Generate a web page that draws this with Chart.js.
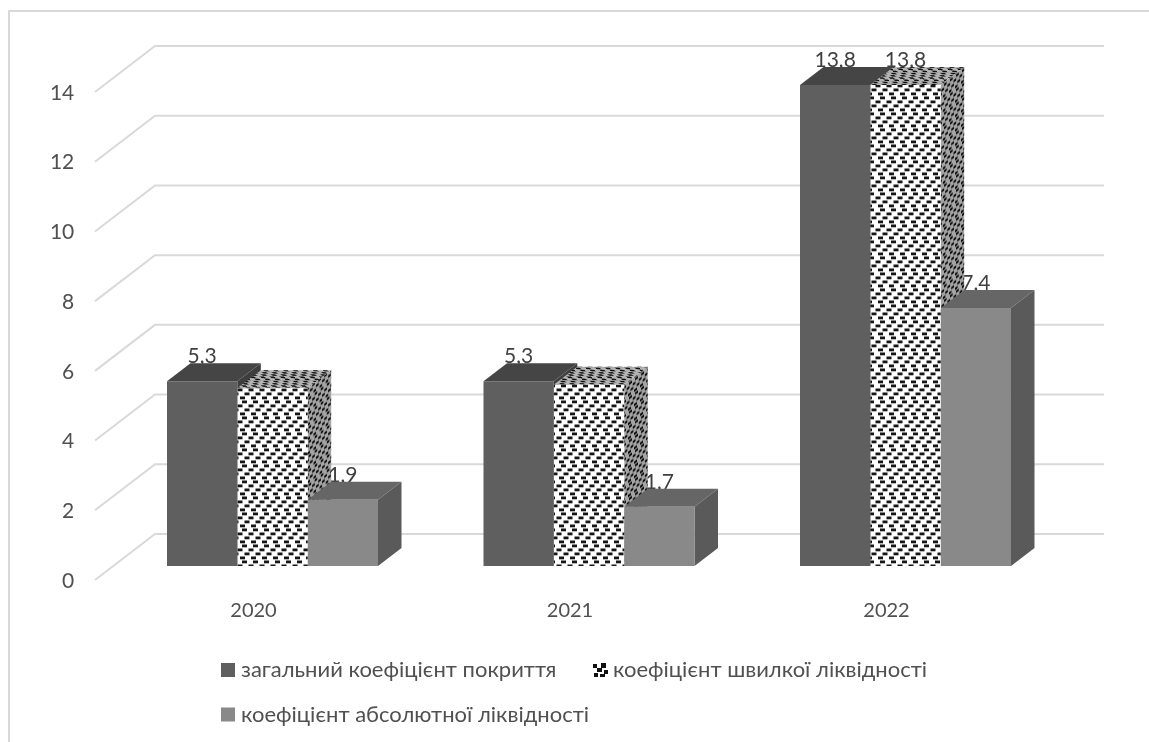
<!DOCTYPE html>
<html><head><meta charset="utf-8">
<style>html,body{margin:0;padding:0;background:#fff;overflow:hidden}#w{position:relative;width:1149px;height:742px}canvas{display:block}</style>
<script src="https://cdn.jsdelivr.net/npm/chart.js@4"></script>
</head><body><div id="w"><canvas id="c" width="1149" height="742"></canvas></div>
<script>
const categories = ['2020','2021','2022'];
const seriesNames = ['загальний коефіцієнт покриття','коефіцієнт швилкої ліквідності','коефіцієнт абсолютної ліквідності'];
const totalCover = [5.3,5.3,13.8];
const quickRatio = [5.1,5.2,13.8];
const absoluteRatio = [1.9,1.7,7.4];
const yTicks = [0,2,4,6,8,10,12,14];
const quickLabelShown = [false,false,true];

const FONT = 'Lato, "Open Sans", "Noto Sans", sans-serif';
const TXT = '#505050', GRID = '#d9d9d9';

function brickTile(){
  const t=document.createElement('canvas');t.width=22;t.height=16;
  const g=t.getContext('2d');g.fillStyle='#fff';g.fillRect(0,0,22,16);
  g.fillStyle='#161616';
  [0,6.5,2.5,9].forEach((off,row)=>{
    for(let k=-1;k<3;k++) g.fillRect(off+k*11,row*4+0.5,5,2.8);
  });
  return t;
}
const tile=brickTile();
const ctx0=document.getElementById('c').getContext('2d');
const pattern=ctx0.createPattern(tile,'repeat');

const faces=[
  {top:'#454545',side:'#3e3e3e'},
  {top:'#b4b4b4',side:'#a4a4a4',pattern:true},
  {top:'#666666',side:'#5a5a5a'}
];
const DX=23.5,DY=-18;

const plugin3d={
  id:'plugin3d',
  beforeDatasetsDraw(chart){
    const {ctx,scales:{x,y}}=chart;
    ctx.save();
    ctx.strokeStyle='#d9d9d9';ctx.lineWidth=2;
    ctx.beginPath();ctx.moveTo(9,742);ctx.lineTo(9,11);ctx.lineTo(1149,11);ctx.stroke();
    ctx.strokeStyle=GRID;ctx.lineWidth=2;
    yTicks.forEach(v=>{
      const py=y.getPixelForValue(v);
      ctx.beginPath();
      ctx.moveTo(95,py+14);ctx.lineTo(155,py-32);ctx.lineTo(1104,py-32);
      ctx.stroke();
    });
    ctx.fillStyle='#404040';ctx.font='21px '+FONT;ctx.textAlign='center';ctx.textBaseline='middle';
    chart.data.datasets.forEach((ds,i)=>{
      chart.getDatasetMeta(i).data.forEach((el,j)=>{
        if(i===1&&!quickLabelShown[j])return;
        ctx.fillText(String(ds.data[j]).replace('.',','),el.x,el.y-25);
      });
    });
    categories.forEach((c,j)=>{
      chart.data.datasets.forEach((ds,i)=>{
        const el=chart.getDatasetMeta(i).data[j];
        const l=el.x-el.width/2,r=el.x+el.width/2,t=el.y,b=el.base;
        const f=faces[i];
        const top=()=>{ctx.beginPath();ctx.moveTo(l,t);ctx.lineTo(l+DX,t+DY);ctx.lineTo(r+DX,t+DY);ctx.lineTo(r,t);ctx.closePath();};
        const side=()=>{ctx.beginPath();ctx.moveTo(r,t);ctx.lineTo(r+DX,t+DY);ctx.lineTo(r+DX,b+DY);ctx.lineTo(r,b);ctx.closePath();};
        if(f.pattern){
          ctx.save();top();ctx.clip();
          ctx.setTransform(0.9,0,0.7,0.55,0,0);
          ctx.fillStyle=pattern;ctx.fillRect(-3000,-1000,7000,4000);
          ctx.setTransform(1,0,0,1,0,0);
          ctx.globalCompositeOperation='multiply';
          ctx.fillStyle=f.top;ctx.fillRect(0,0,1149,742);ctx.restore();
          ctx.save();side();ctx.clip();
          ctx.setTransform(0.55,DY/DX*0.55,0,0.9,0,0);
          ctx.fillStyle=pattern;ctx.fillRect(-1000,-1000,4500,3500);
          ctx.setTransform(1,0,0,1,0,0);
          ctx.globalCompositeOperation='multiply';
          ctx.fillStyle=f.side;ctx.fillRect(0,0,1149,742);ctx.restore();
        }else{
          ctx.fillStyle=f.top;top();ctx.fill();
          ctx.fillStyle=f.side;side();ctx.fill();
        }
      });
    });
    ctx.restore();
  },
  afterDraw(chart){
    const {ctx}=chart;
    const ds=chart.data.datasets;
    const items=[{sq:221,tx:241,y:670},{sq:593,tx:613,y:670},{sq:221,tx:241,y:714.5}];
    ctx.save();
    ctx.font='22px '+FONT;ctx.textBaseline='middle';ctx.textAlign='left';
    items.forEach((it,i)=>{
      if(i===1){
        ctx.fillStyle='#fff';ctx.fillRect(it.sq,it.y-7,15,14);
        ctx.fillStyle='#111';
        [[0,1,4,4],[8,0,5,5],[4,5,5,4],[11,7,4,4],[1,10,4,4],[7,11,5,3]].forEach(p=>ctx.fillRect(it.sq+p[0],it.y-7+p[1],p[2],p[3]));
      }else{
        ctx.fillStyle=ds[i].backgroundColor;ctx.fillRect(it.sq,it.y-7,14,14);
      }
      ctx.fillStyle=TXT;ctx.fillText(ds[i].label,it.tx,it.y);
    });
    ctx.restore();
  }
};

new Chart(ctx0,{
  type:'bar',
  data:{labels:categories,datasets:[
    {label:seriesNames[0],data:totalCover,backgroundColor:'#5f5f5f'},
    {label:seriesNames[1],data:quickRatio,backgroundColor:pattern},
    {label:seriesNames[2],data:absoluteRatio,backgroundColor:'#898989'}
  ]},
  plugins:[plugin3d],
  options:{
    responsive:false,animation:false,
    categoryPercentage:0.6667,barPercentage:1,
    layout:{padding:{top:78,right:85.25,bottom:0,left:0}},
    plugins:{legend:{display:false},tooltip:{enabled:false},title:{display:false}},
    scales:{
      x:{
        grid:{display:false,drawTicks:false},border:{display:false},
        afterFit(s){s.height=176;},
        ticks:{color:TXT,font:{family:FONT,size:20},padding:33,labelOffset:-19,maxRotation:0}
      },
      y:{
        min:0,max:14,
        grid:{display:false,drawTicks:false},border:{display:false},
        afterFit(s){s.width=114.25;},
        afterBuildTicks(s){s.ticks=yTicks.map(v=>({value:v}));},
        ticks:{color:TXT,font:{family:FONT,size:21},padding:40,labelOffset:15}
      }
    }
  }
});
</script></body></html>
